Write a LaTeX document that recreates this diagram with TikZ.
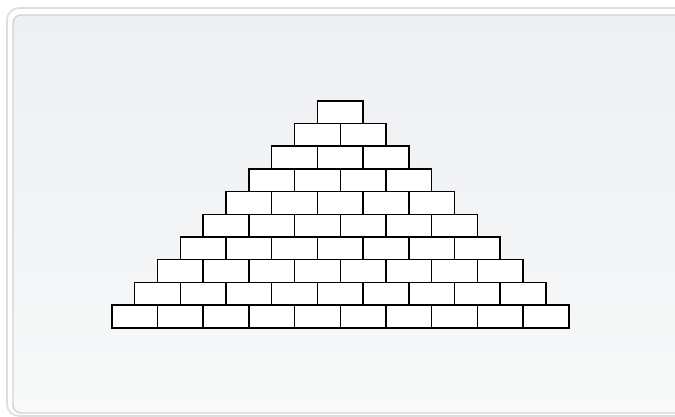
\documentclass[tikz,border=0pt]{standalone}
\usetikzlibrary{shadings}
\definecolor{bgtop}{RGB}{238,239,242}
\definecolor{bgbot}{RGB}{248,249,249}
\definecolor{frameA}{RGB}{222,222,222}
\definecolor{frameB}{RGB}{210,211,213}
\tikzset{
  brick/.style={draw=black, line width=1.5pt, fill=white, rectangle,
    minimum width=45.7pt, minimum height=22.7pt, inner sep=0pt, anchor=north west}
}
\begin{document}
\begin{tikzpicture}[x=1pt,y=-1pt]
\useasboundingbox (0,0) rectangle (675,416);
\fill[white] (0,0) rectangle (675,416);
\draw[frameA, line width=1.6pt, rounded corners=12pt, fill=white] (7,8) rectangle (720,416);
\shade[top color=bgtop, bottom color=bgbot, draw=frameB, line width=1.4pt, rounded corners=8pt] (13,15) rectangle (712,413);
\foreach \i in {0,...,9}{
  \pgfmathtruncatemacro{\n}{\i}
  \foreach \j in {0,...,\n}{
    \node[brick] (b-\i-\j) at ({339.5-(\i+1)*45.7/2+\j*45.7}, {100+\i*22.7}) {};
  }
}
\end{tikzpicture}
\end{document}
